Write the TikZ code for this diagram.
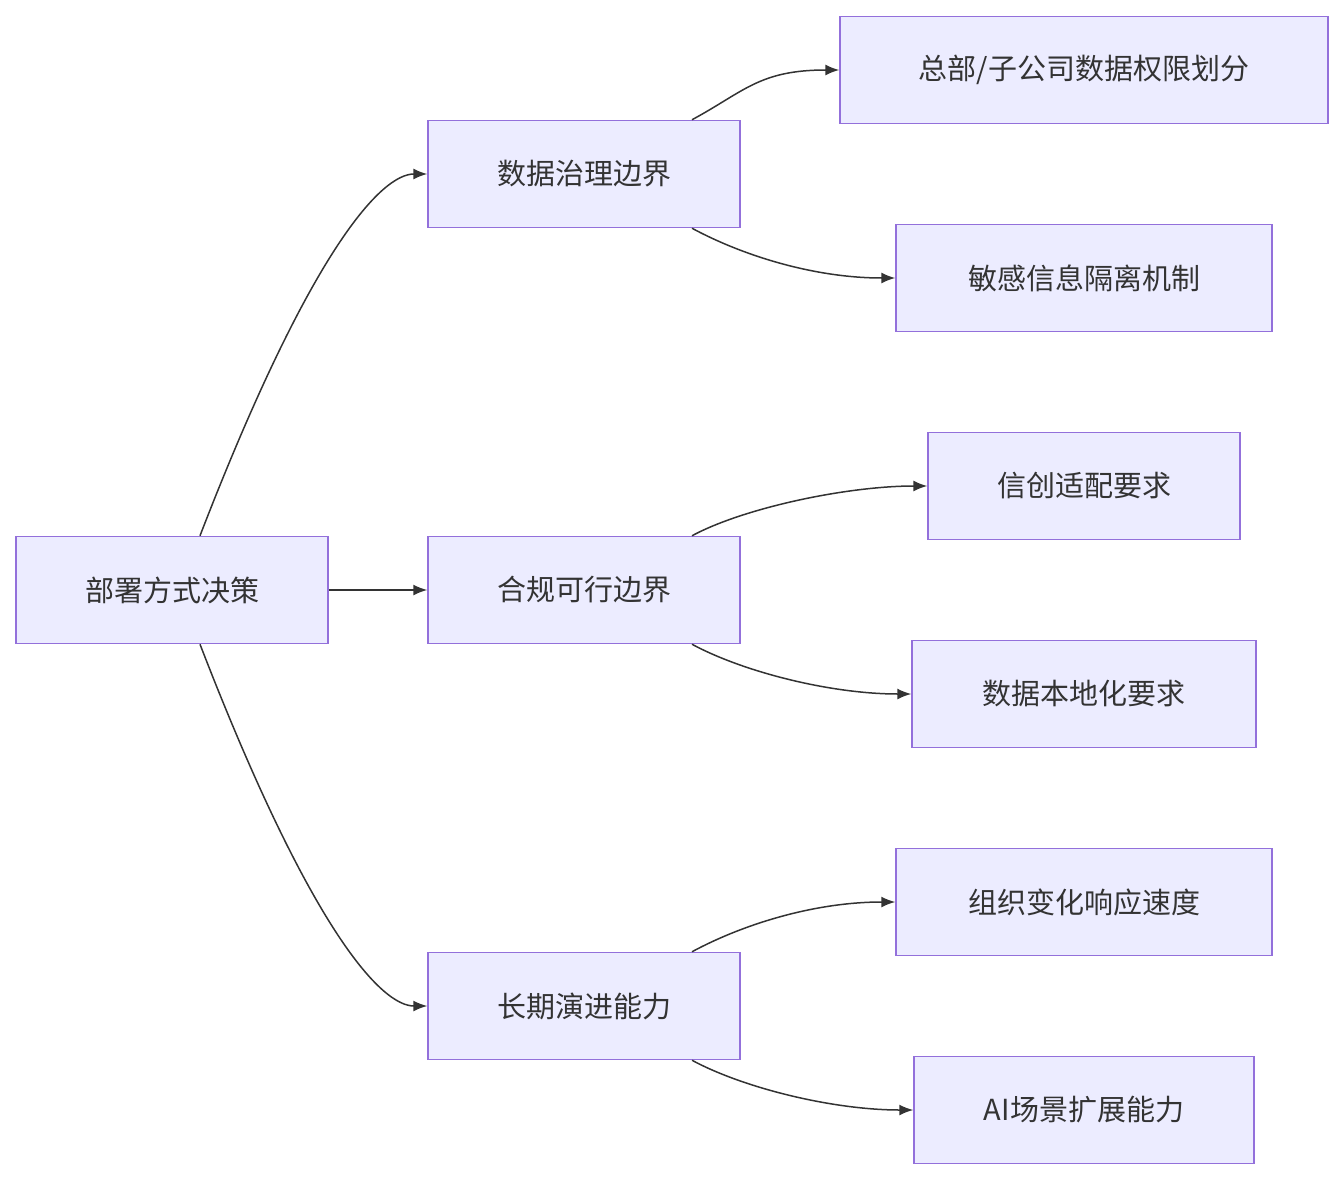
\documentclass[tikz,border=0pt]{standalone}
\usepackage{fontspec}
\setmainfont{Noto Sans CJK SC}
\usetikzlibrary{calc,arrows.meta}
\definecolor{bfill}{HTML}{ECECFF}
\definecolor{bdraw}{HTML}{9370DB}
\definecolor{ink}{HTML}{333333}
\begin{document}
\begin{tikzpicture}[x=1pt,y=-1pt,
  box/.style={draw=bdraw,fill=bfill,line width=1.5pt,minimum height=107pt,inner sep=0pt,text=ink,font=\fontsize{29}{34}\selectfont},
  arr/.style={draw=ink,line width=1.5pt,-{Latex[length=14pt,width=11pt]}}]
\useasboundingbox (0,0) rectangle (1344,1180);
\node[box,minimum width=312pt] (r) at (172,590) {部署方式决策};
\node[box,minimum width=312pt] (a) at (584,174) {数据治理边界};
\node[box,minimum width=312pt] (b) at (584,590) {合规可行边界};
\node[box,minimum width=312pt] (c) at (584,1006) {长期演进能力};
\node[box,minimum width=488pt] (a1) at (1084,70) {总部/子公司数据权限划分};
\node[box,minimum width=376pt] (a2) at (1084,278) {敏感信息隔离机制};
\node[box,minimum width=312pt] (b1) at (1084,486) {信创适配要求};
\node[box,minimum width=344pt] (b2) at (1084,694) {数据本地化要求};
\node[box,minimum width=376pt] (c1) at (1084,902) {组织变化响应速度};
\node[box,minimum width=340pt] (c2) at (1084,1110) {AI场景扩展能力};
\draw[arr] ($(r.north)+(28,0)$) .. controls ($(r.north)+(140,-290)$) and ($(a.west)+(-45,0)$) .. (a.west);
\draw[arr] (r.east) -- (b.west);
\draw[arr] ($(r.south)+(28,0)$) .. controls ($(r.south)+(140,290)$) and ($(c.west)+(-45,0)$) .. (c.west);
\foreach \p/\q in {a/a1,b/b1,c/c1}{
  \draw[arr] ($(\p.north)+(108,0)$) .. controls ($(\p.north)+(160,-28)$) and ($(\q.west)+(-80,0)$) .. (\q.west);}
\foreach \p/\q in {a/a2,b/b2,c/c2}{
  \draw[arr] ($(\p.south)+(108,0)$) .. controls ($(\p.south)+(160,28)$) and ($(\q.west)+(-80,0)$) .. (\q.west);}
\end{tikzpicture}
\end{document}
